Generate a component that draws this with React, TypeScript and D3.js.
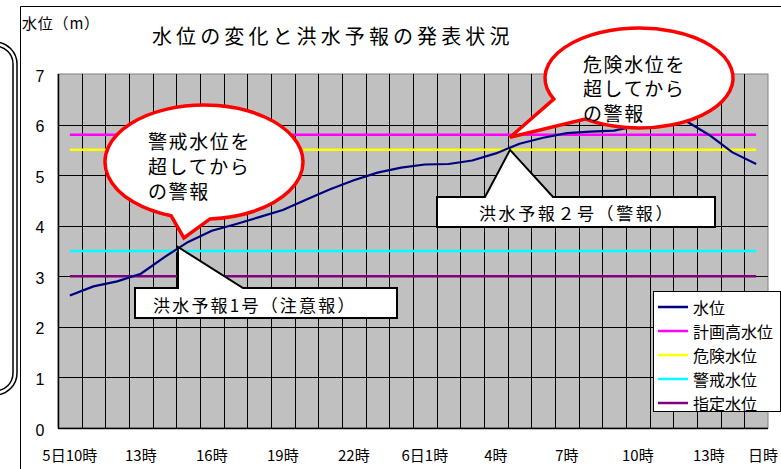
import React from 'react';
import * as d3 from 'd3';

const W = 781;
const H = 469;

const hours = [
  '5日10時', '11時', '12時', '13時', '14時', '15時', '16時', '17時', '18時', '19時',
  '20時', '21時', '22時', '23時', '0時', '6日1時', '2時', '3時', '4時', '5時',
  '6時', '7時', '8時', '9時', '10時', '11時', '12時', '13時', '14時', '15時',
];

const waterLevel = [
  2.62, 2.8, 2.9, 3.05, 3.38, 3.68, 3.9, 4.03, 4.17, 4.31,
  4.52, 4.72, 4.9, 5.05, 5.15, 5.21, 5.22, 5.29, 5.43, 5.62,
  5.74, 5.83, 5.86, 5.88, 5.98, 6.05, 6.08, 5.8, 5.45, 5.22,
];

const refNames = ['計画高水位', '危険水位', '警戒水位', '指定水位'];
const refValues = [5.8, 5.5, 3.5, 3.0];

const legendNames = ['水位', '計画高水位', '危険水位', '警戒水位', '指定水位'];
const legendColors = ['#000080', '#FF00FF', '#FFFF00', '#00FFFF', '#800080'];

const yTicks = [0, 1, 2, 3, 4, 5, 6, 7];

const JP = '"Noto Sans CJK JP", "Noto Sans", sans-serif';

export default function App() {
  const idx = hours.map((_, i) => i);
  const x = d3.scaleBand<number>().domain(idx).range([58, 768]).padding(0);
  const bw = x.bandwidth();
  const xc = (i: number) => (x(Math.floor(i)) as number) + bw / 2 + (i - Math.floor(i)) * bw;
  const y = d3.scaleLinear().domain([0, 7]).range([428, 74]);

  const line = d3
    .line<number>()
    .x((_, i) => xc(i))
    .y((d) => y(d));

  const [x0, x1] = x.range();
  const [yb, yt] = y.range();

  const boxA = { tip: [xc(4.57), y(3.58)] };
  const boxB = { tip: [xc(18.6), y(5.5)] };

  const b1 = { cx: 204, cy: 162, rx: 99, ry: 57, t1: 109.4, t2: 86.5, tip: [xc(4.82), y(3.76)] };
  const b2 = { cx: 639, cy: 78, rx: 94, ry: 50, t1: 155, t2: 125, tip: [xc(18.6), y(5.75)] };
  const bubblePath = (b: any) => {
    const r = Math.PI / 180;
    const ax = b.cx + b.rx * Math.cos(b.t1 * r);
    const ay = b.cy + b.ry * Math.sin(b.t1 * r);
    const bx = b.cx + b.rx * Math.cos(b.t2 * r);
    const by = b.cy + b.ry * Math.sin(b.t2 * r);
    return `M${ax},${ay} A${b.rx},${b.ry} 0 1 1 ${bx},${by} L${b.tip[0]},${b.tip[1]} Z`;
  };

  const ax = boxA.tip[0];
  const pathA = `M135,288 L${ax},288 L${ax},${boxA.tip[1]} L243,288 L397,288 L397,318 L135,318 Z`;
  const pathB = `M437,197 L485,197 L${boxB.tip[0]},${boxB.tip[1]} L553,197 L715,197 L715,227 L437,227 Z`;

  return (
    <svg
      width={W}
      height={H}
      viewBox={`0 0 ${W} ${H}`}
      style={{ position: 'absolute', left: 0, top: 0, background: '#fff' }}
    >
      <rect x={0} y={0} width={W} height={H} fill="#fff" />
      <rect x={-60} y={42} width={77} height={353} rx={22} ry={22} fill="none" stroke="#000" strokeWidth={1.5} />
      <rect x={-60} y={46} width={73} height={345} rx={18} ry={18} fill="none" stroke="#000" strokeWidth={1.5} />
      <path d={`M20.5,${H} L20.5,6.5 L${W},6.5`} fill="none" stroke="#000" strokeWidth={1} />

      <text x={152} y={35} fontFamily={JP} fontSize={20} letterSpacing={4.1} dominantBaseline="central" fill="#000">
        水位の変化と洪水予報の発表状況
      </text>
      <text x={22} y={22} fontFamily={JP} fontSize={15} letterSpacing={0.8} dominantBaseline="central" fill="#000">
        水位（m）
      </text>

      <rect x={x0} y={yt} width={x1 - x0} height={yb - yt} fill="#C0C0C0" stroke="#808080" strokeWidth={1} />
      {idx.slice(1).map((i) => (
        <line key={'v' + i} x1={Math.round(x(i) as number) + 0.5} x2={Math.round(x(i) as number) + 0.5} y1={yt} y2={yb} stroke="#000" strokeWidth={1} />
      ))}
      {yTicks.slice(1, -1).map((t) => (
        <line key={'h' + t} x1={x0} x2={x1} y1={Math.round(y(t)) + 0.5} y2={Math.round(y(t)) + 0.5} stroke="#000" strokeWidth={1} />
      ))}
      <line x1={x0 + 0.5} x2={x0 + 0.5} y1={yt} y2={yb} stroke="#000" strokeWidth={1.5} />
      <line x1={x0} x2={x1} y1={yb + 0.5} y2={yb + 0.5} stroke="#000" strokeWidth={1.5} />

      {refValues.map((v, k) => (
        <line
          key={refNames[k]}
          x1={xc(0)}
          x2={xc(hours.length - 1)}
          y1={y(v)}
          y2={y(v)}
          stroke={legendColors[k + 1]}
          strokeWidth={2.5}
        />
      ))}
      <path d={line(waterLevel) as string} fill="none" stroke="#000080" strokeWidth={2.2} strokeLinejoin="round" />

      {yTicks.map((t) => (
        <text key={'yt' + t} x={40} y={y(t) + 2} textAnchor="middle" dominantBaseline="central" fontFamily="'Liberation Sans', Arial, sans-serif" fontSize={16} fill="#000">
          {t}
        </text>
      ))}
      {idx.filter((i) => i % 3 === 0).map((i) => (
        <text key={'xt' + i} x={xc(i)} y={454} textAnchor="middle" dominantBaseline="central" fontFamily={JP} fontSize={15} fill="#000">
          {hours[i]}
        </text>
      ))}
      <text x={763} y={454} textAnchor="middle" dominantBaseline="central" fontFamily={JP} fontSize={15} fill="#000">
        日時
      </text>

      <path d={pathA} fill="#fff" stroke="#000" strokeWidth={2} strokeLinejoin="miter" />
      <text x={153} y={304} fontFamily={JP} fontSize={17} letterSpacing={2.2} dominantBaseline="central" fill="#000">
        洪水予報1号（注意報）
      </text>
      <path d={pathB} fill="#fff" stroke="#000" strokeWidth={2} strokeLinejoin="miter" />
      <text x={577} y={212} textAnchor="middle" fontFamily={JP} fontSize={17} letterSpacing={2.6} dominantBaseline="central" fill="#000">
        洪水予報２号（警報）
      </text>

      <path d={bubblePath(b1)} fill="#fff" stroke="#FF0000" strokeWidth={3.5} strokeLinejoin="miter" />
      {['警戒水位を', '超してから', 'の警報'].map((s, k) => (
        <text key={'b1' + k} x={148} y={140 + k * 25} fontFamily={JP} fontSize={19} letterSpacing={1.6} dominantBaseline="central" fill="#000">
          {s}
        </text>
      ))}
      <path d={bubblePath(b2)} fill="#fff" stroke="#FF0000" strokeWidth={3.5} strokeLinejoin="miter" />
      {['危険水位を', '超してから', 'の警報'].map((s, k) => (
        <text key={'b2' + k} x={583} y={63 + k * 24.5} fontFamily={JP} fontSize={19} letterSpacing={1.6} dominantBaseline="central" fill="#000">
          {s}
        </text>
      ))}

      <rect x={653.5} y={291.5} width={127} height={120} fill="#fff" stroke="#000" strokeWidth={1} />
      {legendNames.map((n, k) => (
        <g key={'lg' + k}>
          <line x1={658} x2={688} y1={307 + k * 24} y2={307 + k * 24} stroke={legendColors[k]} strokeWidth={2.5} />
          <text x={693} y={307 + k * 24} fontFamily={JP} fontSize={16} dominantBaseline="central" fill="#000">
            {n}
          </text>
        </g>
      ))}
    </svg>
  );
}
